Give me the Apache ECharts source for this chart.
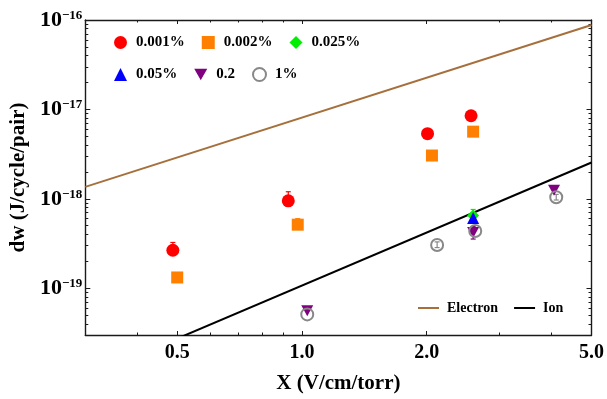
<!DOCTYPE html>
<html><head><meta charset="utf-8">
<script src="https://cdn.jsdelivr.net/npm/echarts@6/dist/echarts.min.js"></script>
<style>html,body{margin:0;padding:0;background:#fff}#c{width:607px;height:399px}</style>
</head><body><div id="c"></div>
<script>
// ---- axis ticks ----
const xMajorTicks = [0.5, 1.0, 2.0, 5.0];
const xMinorTicks = [0.4, 0.6, 0.7, 0.8, 0.9, 3, 4];
const yMajorTicks = [1e-19, 1e-18, 1e-17, 1e-16];
const yMinorTicks = [4e-20, 5e-20, 6e-20, 7e-20, 8e-20, 9e-20,
  2e-19, 3e-19, 4e-19, 5e-19, 6e-19, 7e-19, 8e-19, 9e-19,
  2e-18, 3e-18, 4e-18, 5e-18, 6e-18, 7e-18, 8e-18, 9e-18,
  2e-17, 3e-17, 4e-17, 5e-17, 6e-17, 7e-17, 8e-17, 9e-17];

// ---- data series [X, dw] ----
const pct0001 = [[0.488, 2.66e-19], [0.927, 9.5e-19], [2.01, 5.36e-18], [2.56, 8.5e-18]];
const pct0002 = [[0.50, 1.32e-19], [0.977, 5.14e-19], [2.06, 3.05e-18], [2.59, 5.64e-18]];
const pct0025 = [[2.59, 6.5e-19]];
const pct005 = [[2.59, 6.1e-19]];
const pct02 = [[1.03, 5.6e-20], [2.59, 4.2e-19], [4.06, 1.25e-18]];
const pct1 = [[1.03, 5.1e-20], [2.12, 3.05e-19], [2.62, 4.36e-19], [4.11, 1.04e-18]];

// ---- error bars [X, low, high] ----
const err0001 = [[0.488, 2.45e-19, 3.25e-19], [0.927, 8.3e-19, 1.2e-18], [2.01, 5.1e-18, 5.7e-18], [2.56, 8.1e-18, 8.9e-18]];
const err0002 = [[0.977, 4.9e-19, 6.0e-19]];
const err0025 = [[2.59, 5.8e-19, 7.6e-19]];
const err02 = [[2.59, 3.55e-19, 4.9e-19]];
const err1 = [[2.12, 2.85e-19, 3.3e-19], [4.11, 0.97e-18, 1.12e-18]];

// ---- model lines ----
const electronLine = [[0.3, 1.36e-18], [5.0, 8.8e-17]];
const ionLine = [[0.3, 1.0e-20], [5.0, 2.55e-18]];

const FF = 'Liberation Serif';
const txt = {fontFamily: FF, fontWeight: 'bold', color: '#000'};
const frame = {color: '#1a1a1a', width: 1.4};

function errSeries(data, color) {
  return {
    type: 'custom', z: 1, silent: true,
    encode: {x: 0, y: [1, 2]},
    data: data,
    renderItem: function (params, api) {
      const x = api.value(0);
      const p1 = api.coord([x, api.value(1)]);
      const p2 = api.coord([x, api.value(2)]);
      const c = 2.5;
      return {type: 'group', children: [
        {type: 'line', shape: {x1: p1[0], y1: p1[1], x2: p2[0], y2: p2[1]}, style: {stroke: color, lineWidth: 1.2}},
        {type: 'line', shape: {x1: p1[0] - c, y1: p1[1], x2: p1[0] + c, y2: p1[1]}, style: {stroke: color, lineWidth: 1.2}},
        {type: 'line', shape: {x1: p2[0] - c, y1: p2[1], x2: p2[0] + c, y2: p2[1]}, style: {stroke: color, lineWidth: 1.2}}
      ]};
    }
  };
}

const downTri = 'path://M0,0L10,0L5,9Z';

function xAx(pos, ticks, len, withLabel, line) {
  const a = {
    type: 'log', logBase: 10, min: 0.3, max: 5.0, position: pos,
    axisLine: {show: line, onZero: false, lineStyle: frame},
    axisTick: {show: true, inside: true, length: len, customValues: ticks, lineStyle: {color: '#1a1a1a', width: 1}},
    axisLabel: {show: withLabel, customValues: ticks, formatter: v => Number(v).toFixed(1), fontSize: 20, margin: 8, ...txt},
    splitLine: {show: false}, minorTick: {show: false}
  };
  if (withLabel) {
    a.name = 'X (V/cm/torr)'; a.nameLocation = 'middle'; a.nameGap = 38;
    a.nameTextStyle = {fontSize: 21, ...txt};
  }
  return a;
}
function yAx(pos, ticks, len, withLabel, line) {
  const a = {
    type: 'log', logBase: 10, min: 3e-20, max: 1e-16, position: pos,
    axisLine: {show: line, onZero: false, lineStyle: frame},
    axisTick: {show: true, inside: true, length: len, customValues: ticks, lineStyle: {color: '#1a1a1a', width: 1}},
    axisLabel: {show: withLabel, customValues: ticks, margin: 3,
      formatter: v => '{b|10}{s|\u2212' + Math.round(-Math.log10(v)) + '}',
      rich: {b: {fontSize: 22, ...txt}, s: {fontSize: 13, verticalAlign: 'top', ...txt}}},
    splitLine: {show: false}, minorTick: {show: false}
  };
  if (withLabel) {
    a.name = 'dw (J/cycle/pair)'; a.nameLocation = 'middle'; a.nameGap = 38; a.nameRotate = 90;
    a.nameTextStyle = {fontSize: 21, ...txt};
  }
  return a;
}

const legendText = {fontSize: 15, padding: [0, 0, 0, 4], ...txt};

const option = {
  animation: false,
  backgroundColor: '#fff',
  grid: {left: 85, right: 10, top: 20, bottom: 64, containLabel: false},
  xAxis: [
    xAx('bottom', xMajorTicks, 4, true, true),
    xAx('bottom', xMinorTicks, 2.5, false, false),
    xAx('top', xMajorTicks, 4, false, true),
    xAx('top', xMinorTicks, 2.5, false, false)
  ],
  yAxis: [
    yAx('left', yMajorTicks, 5, true, true),
    yAx('left', yMinorTicks, 3, false, false),
    yAx('right', yMajorTicks, 5, false, true),
    yAx('right', yMinorTicks, 3, false, false)
  ],
  legend: [
    {data: ['0.001%', '0.002%', '0.025%'], left: 109, top: 30, itemWidth: 13, itemHeight: 13, itemGap: 17, textStyle: legendText},
    {data: ['0.05%', '0.2', '1%'], left: 109, top: 62, itemWidth: 13, itemHeight: 13, itemGap: 17, textStyle: legendText},
    {data: ['Electron', 'Ion'], left: 413, top: 296, icon: 'rect', itemWidth: 21, itemHeight: 2, itemGap: 16,
      textStyle: {fontSize: 14, padding: [0, 0, 0, 3], ...txt}}
  ],
  series: [
    {name: 'Electron', type: 'line', data: electronLine, symbol: 'none', clip: true,
      lineStyle: {color: '#a5703c', width: 2}, itemStyle: {color: '#a5703c'}, z: 0},
    {name: 'Ion', type: 'line', data: ionLine, symbol: 'none', clip: true,
      lineStyle: {color: '#000', width: 2}, itemStyle: {color: '#000'}, z: 0},
    errSeries(err0001, '#ff0000'),
    errSeries(err0002, '#ff8000'),
    errSeries(err0025, '#00ee00'),
    errSeries(err02, '#800080'),
    errSeries(err1, '#888888'),
    {name: '0.001%', type: 'scatter', data: pct0001, symbol: 'circle', symbolSize: 13, itemStyle: {color: '#ff0000', opacity: 1}, z: 3},
    {name: '0.002%', type: 'scatter', data: pct0002, symbol: 'rect', symbolSize: 12, itemStyle: {color: '#ff8000', opacity: 1}, z: 3},
    {name: '0.025%', type: 'scatter', data: pct0025, symbol: 'diamond', symbolSize: 12, itemStyle: {color: '#00ee00', opacity: 1}, z: 3},
    {name: '0.05%', type: 'scatter', data: pct005, symbol: 'triangle', symbolSize: 12, itemStyle: {color: '#0000ff', opacity: 1}, z: 3},
    {name: '0.2', type: 'scatter', data: pct02, symbol: downTri, symbolSize: [12, 11], itemStyle: {color: '#800080', opacity: 1}, z: 3},
    {name: '1%', type: 'scatter', data: pct1, symbol: 'circle', symbolSize: 12,
      itemStyle: {color: 'rgba(255,255,255,0)', borderColor: '#888888', borderWidth: 2, opacity: 1}, z: 4}
  ]
};
const chart = echarts.init(document.getElementById('c'), null, {renderer: 'canvas'});
chart.setOption(option);
</script></body></html>
